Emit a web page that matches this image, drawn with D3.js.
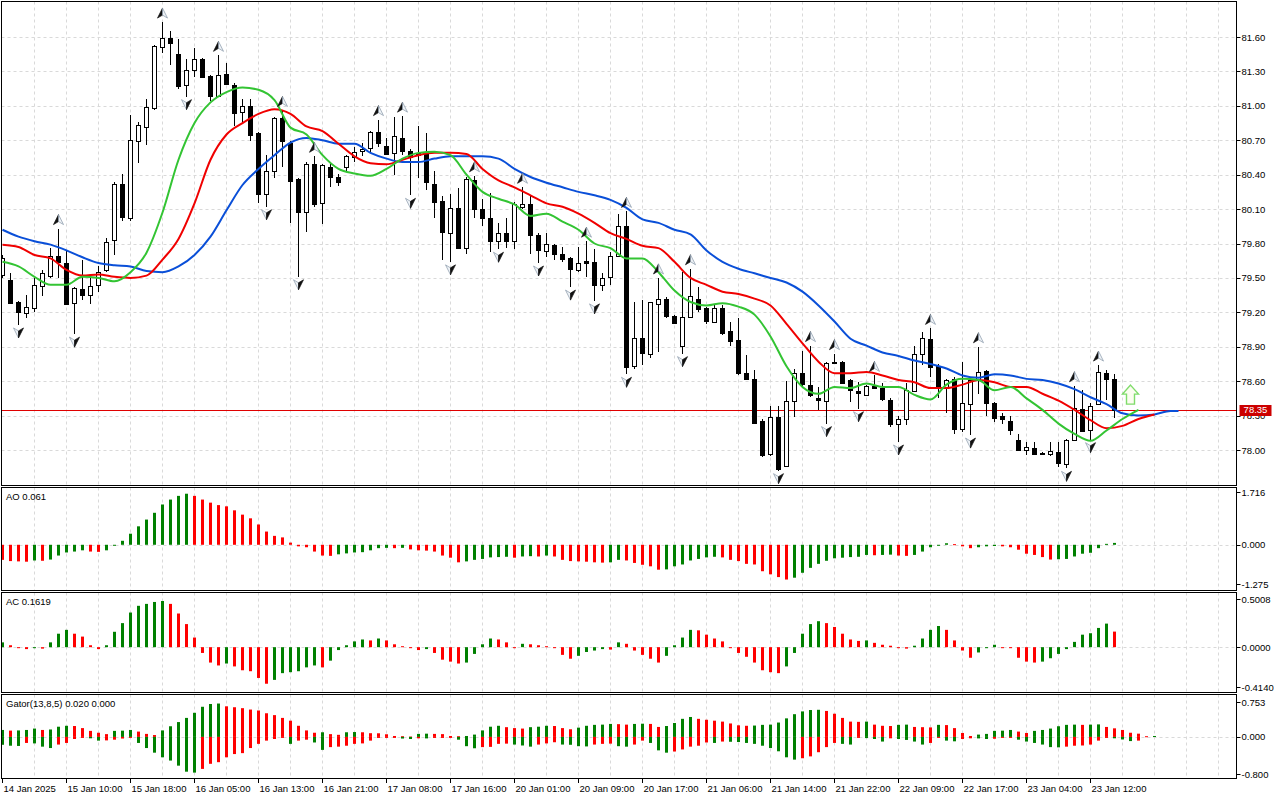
<!DOCTYPE html>
<html>
<head>
<meta charset="utf-8">
<script src="https://cdn.jsdelivr.net/npm/d3@7"></script>
<style>
  body { margin: 0; background: #fff; }
  svg { display: block; font-family: "Liberation Sans", Arial, sans-serif; }
</style>
</head>
<body>
<div id="chart"></div>
<script>
// ---- candles, bar index 0..139 (H1) ----
const opens = [79.52,79.48,79.29,79.20,79.24,79.43,79.52,79.69,79.63,79.28,
  79.40,79.35,79.44,79.57,79.83,80.32,80.02,80.69,80.82,80.98,
  81.51,81.59,81.45,81.18,81.31,81.41,81.26,81.09,81.28,81.18,
  80.95,81.00,80.76,80.23,80.43,80.89,80.68,80.36,80.07,80.49,
  80.15,80.47,80.38,80.46,80.56,80.60,80.63,80.77,80.65,80.59,
  80.72,80.61,80.59,80.60,80.32,80.17,79.89,80.11,79.76,80.35,
  80.10,80.02,79.82,79.89,79.82,80.11,80.14,79.87,79.74,79.79,
  79.71,79.67,79.57,79.65,79.64,79.44,79.51,79.69,79.95,78.74,
  78.98,78.84,79.28,79.32,79.17,78.91,79.16,79.32,79.24,79.12,
  79.24,79.04,78.96,78.67,78.62,78.25,77.97,78.29,77.86,78.43,
  78.67,78.57,78.45,78.43,78.77,78.77,78.61,78.51,78.48,78.56,
  78.54,78.44,78.23,78.27,78.52,78.84,78.97,78.73,78.54,78.62,
  78.18,78.40,78.61,78.69,78.41,78.30,78.25,78.09,78.00,78.02,
  77.97,77.96,77.98,77.88,78.09,78.36,78.17,78.40,78.67,78.62]
const highs = [79.70,79.54,79.30,79.35,79.50,79.57,79.76,79.93,79.74,79.42,
  79.66,79.50,79.60,79.85,80.34,80.41,80.92,80.86,81.06,81.53,
  81.73,81.65,81.58,81.41,81.50,81.42,81.27,81.44,81.37,81.20,
  81.06,81.06,80.77,80.57,80.90,80.96,80.69,80.37,80.51,80.56,
  80.49,80.51,80.41,80.57,80.64,80.68,80.78,80.88,80.72,80.90,
  80.91,80.62,80.82,80.76,80.43,80.21,80.23,80.28,80.38,80.39,
  80.19,80.24,79.98,80.02,80.16,80.29,80.21,79.89,79.89,79.80,
  79.77,79.68,79.77,79.82,79.75,79.54,79.73,80.06,80.08,79.29,
  79.31,79.29,79.50,79.33,79.18,79.55,79.58,79.42,79.25,79.26,
  79.26,79.12,79.15,78.83,78.70,78.27,78.38,78.38,78.60,78.71,
  78.86,78.91,78.55,78.77,78.84,78.78,78.62,78.59,78.57,78.65,
  78.58,78.45,78.30,78.58,78.91,79.03,79.06,78.75,78.62,78.64,
  78.77,78.64,78.90,78.70,78.42,78.32,78.30,78.14,78.07,78.07,
  77.98,78.07,78.07,78.10,78.56,78.52,78.41,78.74,78.70,78.66]
const lows = [79.50,79.27,79.09,79.15,79.20,79.34,79.50,79.50,79.26,79.01,
  79.31,79.27,79.38,79.55,79.70,80.00,80.00,80.50,80.66,80.96,
  81.46,81.36,81.15,81.08,81.25,81.24,81.04,81.08,81.18,80.82,
  80.85,80.69,80.15,80.12,80.37,80.47,79.98,79.51,79.90,80.12,
  79.97,80.29,80.30,80.42,80.51,80.56,80.59,80.64,80.57,80.40,
  80.57,80.22,80.37,80.27,80.02,79.66,79.64,79.75,79.71,80.02,
  79.95,79.73,79.75,79.76,79.75,80.10,79.71,79.63,79.68,79.66,
  79.64,79.42,79.55,79.51,79.30,79.39,79.44,79.68,78.66,78.71,
  78.74,78.80,78.85,79.15,79.11,78.84,79.15,79.20,79.10,79.11,
  79.00,78.91,78.65,78.61,78.23,77.94,77.95,77.82,77.85,78.29,
  78.55,78.46,78.35,78.23,78.75,78.58,78.42,78.36,78.47,78.53,
  78.43,78.20,78.07,78.22,78.51,78.74,78.64,78.45,78.32,78.14,
  78.16,78.13,78.49,78.30,78.24,78.23,78.13,77.99,77.96,77.955,
  77.955,77.95,77.85,77.84,78.08,78.16,78.09,78.39,78.44,78.28]
const closes = [79.67,79.28,79.20,79.25,79.44,79.54,79.69,79.64,79.27,79.41,
  79.35,79.43,79.55,79.81,80.32,80.03,80.70,80.83,80.99,81.52,
  81.59,81.55,81.17,81.31,81.41,81.25,81.09,81.27,81.19,80.94,
  81.00,80.75,80.23,80.43,80.89,80.69,80.35,80.07,80.49,80.14,
  80.48,80.38,80.34,80.56,80.60,80.62,80.77,80.67,80.58,80.74,
  80.61,80.56,80.57,80.34,80.16,79.90,80.11,79.76,80.36,80.10,
  80.02,79.82,79.89,79.82,80.14,80.14,79.87,79.74,79.80,79.71,
  79.67,79.57,79.63,79.63,79.44,79.50,79.69,79.95,78.72,78.98,
  78.85,79.29,79.32,79.17,79.11,79.16,79.34,79.23,79.13,79.24,
  79.02,78.95,78.67,78.62,78.24,77.95,78.29,77.84,78.43,78.67,
  78.57,78.48,78.43,78.76,78.76,78.59,78.52,78.49,78.56,78.54,
  78.44,78.23,78.27,78.52,78.84,78.98,78.73,78.54,78.61,78.18,
  78.41,78.61,78.68,78.41,78.28,78.27,78.17,78.00,78.03,77.965,
  77.96,77.99,77.88,78.09,78.37,78.17,78.38,78.68,78.62,78.35]

// ---- Bill Williams fractals (bar indexes) ----
const fractalUp = [7,20,27,35,39,47,50,59,65,73,78,82,86,101,104,109,116,122,134,137]
const fractalDown = [2,9,23,33,37,51,56,62,67,71,74,78,85,97,103,107,112,121,133,136]

// ---- Alligator, [bar, price] read every 2 bars ----
const jaw = [[0,79.92],[2,79.86],[4,79.82],[6,79.79],[8,79.74],[10,79.68],[12,79.63],[14,79.61],[16,79.60],[18,79.56],
  [20,79.55],[22,79.60],[24,79.70],[26,79.86],[28,80.09],[30,80.31],[32,80.45],[34,80.57],[36,80.68],[38,80.72],
  [40,80.70],[42,80.67],[44,80.67],[46,80.59],[48,80.54],[50,80.51],[52,80.51],[54,80.54],[56,80.56],[58,80.56],
  [60,80.56],[62,80.54],[64,80.45],[66,80.38],[68,80.33],[70,80.29],[72,80.25],[74,80.22],[76,80.18],[78,80.11],
  [80,80.01],[82,79.98],[84,79.92],[86,79.88],[88,79.74],[90,79.64],[92,79.58],[94,79.54],[96,79.50],[98,79.46],
  [100,79.38],[102,79.26],[104,79.12],[106,78.97],[108,78.91],[110,78.85],[112,78.82],[114,78.78],[116,78.75],[118,78.71],
  [120,78.65],[122,78.63],[124,78.66],[126,78.65],[128,78.62],[130,78.61],[132,78.58],[134,78.53],[136,78.46],[138,78.40],
  [140,78.32],[142,78.30],[144,78.31],[146,78.34],[147,78.34]]
const teeth = [[0,79.79],[2,79.77],[4,79.70],[6,79.67],[8,79.57],[10,79.52],[12,79.53],[14,79.51],[16,79.50],[18,79.52],
  [20,79.66],[22,79.84],[24,80.15],[26,80.53],[28,80.75],[30,80.85],[32,80.93],[34,80.97],[36,80.93],[38,80.82],
  [40,80.78],[42,80.67],[44,80.56],[46,80.50],[48,80.49],[50,80.53],[52,80.57],[54,80.59],[56,80.59],[58,80.58],
  [60,80.45],[62,80.35],[64,80.29],[66,80.22],[68,80.15],[70,80.12],[72,80.06],[74,79.98],[76,79.89],[78,79.84],
  [80,79.78],[82,79.76],[84,79.64],[86,79.50],[88,79.44],[90,79.38],[92,79.36],[94,79.32],[96,79.26],[98,79.10],
  [100,78.93],[102,78.77],[104,78.67],[106,78.67],[108,78.68],[110,78.65],[112,78.61],[114,78.59],[116,78.54],[118,78.54],
  [120,78.57],[122,78.61],[124,78.59],[126,78.55],[128,78.55],[130,78.49],[132,78.43],[134,78.35],[136,78.26],[138,78.19],
  [140,78.21],[142,78.27],[144,78.31]]
const lips = [[0,79.64],[2,79.60],[4,79.51],[6,79.44],[8,79.44],[10,79.51],[12,79.50],[14,79.47],[16,79.55],[18,79.72],
  [20,80.07],[22,80.53],[24,80.85],[26,81.03],[28,81.12],[30,81.16],[32,81.14],[34,81.05],[36,80.81],[38,80.75],
  [40,80.57],[42,80.45],[44,80.41],[46,80.39],[48,80.45],[50,80.54],[52,80.59],[54,80.60],[56,80.57],[58,80.40],
  [60,80.25],[62,80.19],[64,80.14],[66,80.04],[68,80.06],[70,79.99],[72,79.92],[74,79.80],[76,79.76],[78,79.67],
  [80,79.67],[82,79.55],[84,79.39],[86,79.29],[88,79.26],[90,79.28],[92,79.25],[94,79.18],[96,78.99],[98,78.73],
  [100,78.55],[102,78.49],[104,78.55],[106,78.54],[108,78.58],[110,78.55],[112,78.55],[114,78.48],[116,78.44],[118,78.57],
  [120,78.62],[122,78.61],[124,78.52],[126,78.55],[128,78.45],[130,78.35],[132,78.23],[134,78.14],[136,78.08],[138,78.17],
  [140,78.27],[142,78.35]]

// ---- Awesome Oscillator, bars 0..139 ----
const ao = [-0.49,-0.53,-0.54,-0.55,-0.51,-0.52,-0.48,-0.35,-0.25,-0.22,
  -0.18,-0.22,-0.23,-0.18,-0.01,0.13,0.36,0.60,0.82,1.04,
  1.31,1.47,1.59,1.66,1.59,1.47,1.37,1.29,1.25,1.12,
  0.98,0.86,0.66,0.43,0.29,0.24,0.07,-0.05,-0.08,-0.22,
  -0.35,-0.36,-0.31,-0.28,-0.25,-0.24,-0.18,-0.11,-0.10,-0.11,
  -0.10,-0.15,-0.18,-0.19,-0.22,-0.35,-0.42,-0.57,-0.54,-0.49,
  -0.46,-0.41,-0.40,-0.39,-0.42,-0.38,-0.37,-0.38,-0.35,-0.38,
  -0.49,-0.53,-0.54,-0.55,-0.57,-0.58,-0.57,-0.49,-0.51,-0.59,
  -0.65,-0.70,-0.81,-0.80,-0.70,-0.64,-0.51,-0.46,-0.41,-0.39,
  -0.41,-0.49,-0.53,-0.62,-0.64,-0.86,-0.96,-1.05,-1.13,-1.07,
  -0.91,-0.75,-0.62,-0.52,-0.44,-0.42,-0.40,-0.39,-0.33,-0.34,
  -0.33,-0.32,-0.35,-0.36,-0.33,-0.22,-0.08,-0.03,0.05,0.02,
  -0.05,-0.11,-0.08,-0.05,-0.04,-0.05,-0.08,-0.16,-0.29,-0.33,
  -0.40,-0.48,-0.47,-0.46,-0.38,-0.29,-0.26,-0.11,0.03,0.061]

// ---- Accelerator Oscillator, bars 0..139 ----
const ac = [0.05,0.02,-0.005,-0.02,-0.01,-0.015,0.05,0.14,0.18,0.14,
  0.11,0.02,-0.02,0.02,0.16,0.25,0.36,0.43,0.45,0.47,
  0.48,0.45,0.35,0.24,0.10,-0.06,-0.16,-0.19,-0.17,-0.20,
  -0.24,-0.25,-0.32,-0.38,-0.34,-0.27,-0.26,-0.25,-0.21,-0.19,
  -0.21,-0.14,-0.03,0.02,0.06,0.08,0.07,0.09,0.07,0.03,
  0.01,-0.01,-0.03,-0.02,-0.06,-0.13,-0.15,-0.17,-0.16,-0.07,
  0.03,0.09,0.08,0.05,0.00,0.035,0.03,0.02,0.01,-0.005,
  -0.08,-0.12,-0.09,-0.05,-0.035,-0.02,-0.025,0.05,0.035,-0.035,
  -0.08,-0.12,-0.16,-0.09,0.02,0.10,0.18,0.175,0.13,0.09,
  0.06,-0.01,-0.06,-0.10,-0.16,-0.24,-0.26,-0.27,-0.20,-0.06,
  0.14,0.24,0.27,0.25,0.21,0.14,0.08,0.065,0.07,0.045,
  0.025,0.015,-0.005,-0.015,0.015,0.09,0.18,0.22,0.18,0.07,
  -0.035,-0.11,-0.055,-0.01,0.025,-0.005,-0.01,-0.11,-0.15,-0.16,
  -0.15,-0.115,-0.07,-0.02,0.055,0.13,0.145,0.20,0.245,0.1619]

// ---- Gator Oscillator, upper bars 0..144, lower bars 0..142 ----
const gatorUp = [0.15,0.136,0.14,0.15,0.18,0.15,0.16,0.22,0.24,0.235,
  0.19,0.13,0.09,0.06,0.13,0.135,0.15,0.115,0.065,0.04,
  0.14,0.23,0.32,0.41,0.52,0.65,0.71,0.72,0.66,0.64,
  0.62,0.59,0.57,0.51,0.47,0.41,0.35,0.24,0.14,0.09,
  0.10,0.06,0.045,0.10,0.105,0.10,0.08,0.078,0.057,0.02,
  0.015,0.007,0.065,0.07,0.065,0.06,0.02,0.015,0.02,0.05,
  0.14,0.22,0.24,0.21,0.19,0.18,0.21,0.22,0.24,0.235,
  0.19,0.165,0.20,0.24,0.26,0.265,0.28,0.275,0.265,0.28,
  0.285,0.28,0.215,0.235,0.30,0.39,0.43,0.39,0.37,0.35,
  0.33,0.29,0.25,0.24,0.245,0.26,0.265,0.31,0.40,0.49,
  0.55,0.58,0.585,0.56,0.50,0.41,0.33,0.325,0.33,0.265,
  0.24,0.235,0.26,0.265,0.215,0.21,0.205,0.26,0.255,0.19,
  0.085,0.02,0.05,0.065,0.13,0.135,0.15,0.115,0.085,0.13,
  0.15,0.18,0.23,0.26,0.265,0.26,0.265,0.27,0.215,0.185,
  0.15,0.09,0.07,0.015,0.02]
const gatorDown = [-0.17,-0.19,-0.195,-0.13,-0.14,-0.21,-0.24,-0.165,-0.13,-0.045,
  -0.02,-0.03,-0.08,-0.075,-0.06,-0.035,-0.01,-0.13,-0.24,-0.34,
  -0.44,-0.51,-0.62,-0.75,-0.77,-0.69,-0.58,-0.545,-0.44,-0.37,
  -0.35,-0.24,-0.15,-0.08,-0.045,-0.015,-0.15,-0.08,-0.06,-0.12,
  -0.28,-0.22,-0.21,-0.19,-0.15,-0.14,-0.08,-0.02,-0.01,-0.008,
  -0.035,-0.045,-0.03,-0.032,-0.02,-0.01,-0.008,-0.06,-0.20,-0.245,
  -0.22,-0.215,-0.15,-0.145,-0.165,-0.185,-0.21,-0.165,-0.14,-0.115,
  -0.165,-0.17,-0.20,-0.205,-0.165,-0.15,-0.145,-0.20,-0.21,-0.165,
  -0.08,-0.13,-0.29,-0.34,-0.315,-0.27,-0.21,-0.19,-0.12,-0.13,
  -0.10,-0.105,-0.11,-0.13,-0.15,-0.19,-0.24,-0.31,-0.44,-0.49,
  -0.46,-0.42,-0.33,-0.22,-0.13,-0.15,-0.165,-0.02,-0.025,-0.045,
  -0.10,-0.03,-0.045,-0.065,-0.10,-0.165,-0.13,-0.015,-0.08,-0.095,
  -0.045,-0.03,-0.032,-0.045,-0.04,-0.015,-0.01,-0.06,-0.10,-0.13,
  -0.165,-0.22,-0.225,-0.21,-0.19,-0.185,-0.165,-0.08,-0.015,-0.03,
  -0.055,-0.09,-0.08]

// ---- axes / labels ----
const priceTicks = [81.60,81.30,81.00,80.70,80.40,80.10,79.80,79.50,79.20,78.90,78.60,78.30,78.00]
const lastPrice = 78.35
const buySignal = { bar: 141, price: 78.40 }
const timeLabels = ["14 Jan 2025","15 Jan 10:00","15 Jan 18:00","16 Jan 05:00","16 Jan 13:00","16 Jan 21:00",
  "17 Jan 08:00","17 Jan 16:00","20 Jan 01:00","20 Jan 09:00","20 Jan 17:00","21 Jan 06:00",
  "21 Jan 14:00","21 Jan 22:00","22 Jan 09:00","22 Jan 17:00","23 Jan 04:00","23 Jan 12:00"]
const labelEvery = 8
const gridEvery = 4
const aoTicks = [1.716, 0, -1.275]
const acTicks = [0.5008, 0, -0.414]
const gatorTicks = [0.753, 0, -0.8]

const W = 1280, H = 800
const left = 1.5, right = 1236.5
const GREEN = "#008000", RED = "#ff0000", GRID = "#d9d9d9"

const svg = d3.select("#chart").append("svg").attr("width", W).attr("height", H)

const x = d3.scaleLinear().domain([0, 154]).range([2, 1234])
const cx = i => Math.round(x(i)) + 0.5

const yPrice = d3.scaleLinear().domain([78.0, 81.6]).range([450, 37])
const yAO = d3.scaleLinear().domain([-1.275, 1.716]).range([584, 492])
const yAC = d3.scaleLinear().domain([-0.414, 0.5008]).range([687, 599])
const yGator = d3.scaleLinear().domain([-0.8, 0.753]).range([774, 702])

const panels = [
  { id: "main", top: 1.5, bottom: 485.5 },
  { id: "ao", top: 487.5, bottom: 590.5 },
  { id: "ac", top: 592.5, bottom: 692.5 },
  { id: "gator", top: 694.5, bottom: 778.5 }
]

const defs = svg.append("defs")
panels.forEach(p => {
  defs.append("clipPath").attr("id", "clip-" + p.id)
    .append("rect").attr("x", 2).attr("y", p.top + 0.5)
    .attr("width", right - 2.5).attr("height", p.bottom - p.top - 1)
})

// vertical dashed grid in every panel
const gridBars = d3.range(gridEvery, 154, gridEvery)
panels.forEach(p => {
  svg.append("g").selectAll("line").data(gridBars).join("line")
    .attr("x1", d => cx(d)).attr("x2", d => cx(d))
    .attr("y1", p.top).attr("y2", p.bottom)
    .attr("stroke", GRID).attr("stroke-dasharray", "3,3")
})

// horizontal grid in price panel
svg.append("g").selectAll("line").data(priceTicks).join("line")
  .attr("x1", left).attr("x2", right)
  .attr("y1", d => Math.round(yPrice(d)) + 0.5).attr("y2", d => Math.round(yPrice(d)) + 0.5)
  .attr("stroke", GRID).attr("stroke-dasharray", "3,3")

// zero lines in oscillators
;[yAO, yAC, yGator].forEach(s => {
  svg.append("line").attr("x1", left).attr("x2", right)
    .attr("y1", Math.round(s(0)) + 0.5).attr("y2", Math.round(s(0)) + 0.5)
    .attr("stroke", GRID).attr("stroke-dasharray", "3,3")
})

// ---- main panel ----
const main = svg.append("g").attr("clip-path", "url(#clip-main)")

main.append("line").attr("x1", left).attr("x2", right)
  .attr("y1", Math.round(yPrice(lastPrice)) + 0.5).attr("y2", Math.round(yPrice(lastPrice)) + 0.5)
  .attr("stroke", "#e00000")

const candles = opens.map((o, i) => ({ i, o, h: highs[i], l: lows[i], c: closes[i] }))

main.append("g").selectAll("line").data(candles).join("line")
  .attr("x1", d => cx(d.i)).attr("x2", d => cx(d.i))
  .attr("y1", d => Math.round(yPrice(d.h))).attr("y2", d => Math.round(yPrice(d.l)))
  .attr("stroke", "#000")

main.append("g").selectAll("rect").data(candles).join("rect")
  .attr("x", d => cx(d.i) - 2)
  .attr("width", 4)
  .attr("y", d => Math.round(yPrice(Math.max(d.o, d.c))) + 0.5)
  .attr("height", d => Math.max(0.01, Math.round(Math.abs(yPrice(d.o) - yPrice(d.c)))))
  .attr("fill", d => d.c > d.o ? "#fff" : "#000")
  .attr("stroke", "#000")

const line = d3.line().x(d => x(d[0]) + 0.5).y(d => yPrice(d[1])).curve(d3.curveMonotoneX)
main.append("path").attr("d", line(jaw)).attr("fill", "none").attr("stroke", "#0a4fd8").attr("stroke-width", 2)
main.append("path").attr("d", line(teeth)).attr("fill", "none").attr("stroke", "#f00000").attr("stroke-width", 2)
main.append("path").attr("d", line(lips)).attr("fill", "none").attr("stroke", "#33c433").attr("stroke-width", 2)

// fractal arrows
function drawFractal(g, up) {
  const s = up ? 1 : -1
  g.append("path").attr("d", `M0,${-5 * s} L-5,${5 * s} L0,${2 * s} Z`)
    .attr("fill", up ? "#111" : "#eef2f6").attr("stroke", up ? "#111" : "#8797a8").attr("stroke-width", 0.7)
  g.append("path").attr("d", `M0,${-5 * s} L5,${5 * s} L0,${2 * s} Z`)
    .attr("fill", up ? "#eef2f6" : "#111").attr("stroke", up ? "#8797a8" : "#111").attr("stroke-width", 0.7)
}
main.append("g").selectAll("g").data(fractalUp).join("g")
  .attr("transform", d => `translate(${cx(d)},${yPrice(highs[d]) - 9})`)
  .each(function () { drawFractal(d3.select(this), true) })
main.append("g").selectAll("g").data(fractalDown).join("g")
  .attr("transform", d => `translate(${cx(d)},${yPrice(lows[d]) + 8})`)
  .each(function () { drawFractal(d3.select(this), false) })

// buy signal arrow
main.append("path")
  .attr("transform", `translate(${cx(buySignal.bar)},${yPrice(buySignal.price)})`)
  .attr("d", "M0,-19 L8,-10 L4,-10 L4,0 L-4,0 L-4,-10 L-8,-10 Z")
  .attr("fill", "#fbfdf0").attr("stroke", "#7fdc6a").attr("stroke-width", 1.4)

// ---- oscillators ----
function histogram(id, values, scale, firstGreen, byAbs) {
  const g = svg.append("g").attr("clip-path", `url(#clip-${id})`)
  const v = d => byAbs ? Math.abs(d) : d
  g.selectAll("rect").data(values).join("rect")
    .attr("x", (d, i) => Math.round(x(i)) - 1)
    .attr("width", 3)
    .attr("y", d => Math.min(scale(0), scale(d)))
    .attr("height", d => Math.max(1, Math.abs(scale(d) - scale(0))))
    .attr("fill", (d, i) => {
      const up = i === 0 ? firstGreen : v(d) > v(values[i - 1])
      return up ? GREEN : RED
    })
}
histogram("ao", ao, yAO, false, false)
histogram("ac", ac, yAC, true, false)
histogram("gator", gatorUp, yGator, true, true)
histogram("gator", gatorDown, yGator, true, true)

// ---- panel frames ----
panels.forEach(p => {
  svg.append("rect").attr("x", left).attr("y", p.top)
    .attr("width", right - left).attr("height", p.bottom - p.top)
    .attr("fill", "none").attr("stroke", "#000")
})

// ---- right scales ----
function rightAxis(ticks, scale, fmt) {
  const g = svg.append("g")
  g.selectAll("line").data(ticks).join("line")
    .attr("x1", right).attr("x2", right + 4)
    .attr("y1", d => Math.round(scale(d)) + 0.5).attr("y2", d => Math.round(scale(d)) + 0.5)
    .attr("stroke", "#000")
  g.selectAll("text").data(ticks).join("text")
    .attr("x", right + 5).attr("y", d => scale(d) + 3.5)
    .attr("font-size", "9.5px").attr("fill", "#000")
    .text(fmt)
}
rightAxis(priceTicks, yPrice, d => d.toFixed(2))
rightAxis(aoTicks, yAO, d => d.toFixed(3))
rightAxis(acTicks, yAC, d => d.toFixed(4))
rightAxis(gatorTicks, yGator, d => d.toFixed(3))

// last price tag
const lp = yPrice(lastPrice)
svg.append("rect").attr("x", right + 3).attr("y", Math.round(lp) - 5)
  .attr("width", 32).attr("height", 11).attr("fill", "#cc0000")
svg.append("text").attr("x", right + 19).attr("y", lp + 3.5).attr("text-anchor", "middle")
  .attr("font-size", "9.5px").attr("fill", "#fff").text(lastPrice.toFixed(2))

// ---- indicator captions ----
const captions = [
  { text: "AO " + ao[ao.length - 1].toFixed(3), y: 500 },
  { text: "AC " + ac[ac.length - 1].toFixed(4), y: 605 },
  { text: "Gator(13,8,5) " + gatorUp[gatorUp.length - 1].toFixed(3) + " 0.000", y: 707 }
]
svg.append("g").selectAll("text").data(captions).join("text")
  .attr("x", 6).attr("y", d => d.y).attr("font-size", "9.5px").attr("fill", "#000")
  .text(d => d.text)

// ---- time axis ----
const tl = timeLabels.map((t, k) => ({ t, bar: k * labelEvery }))
svg.append("g").selectAll("line").data(tl).join("line")
  .attr("x1", d => cx(d.bar)).attr("x2", d => cx(d.bar))
  .attr("y1", 778.5).attr("y2", 783).attr("stroke", "#000")
svg.append("g").selectAll("text").data(tl).join("text")
  .attr("x", d => cx(d.bar) + 1).attr("y", 792)
  .attr("font-size", "9.5px").attr("fill", "#000")
  .text(d => d.t)
</script>
</body>
</html>
